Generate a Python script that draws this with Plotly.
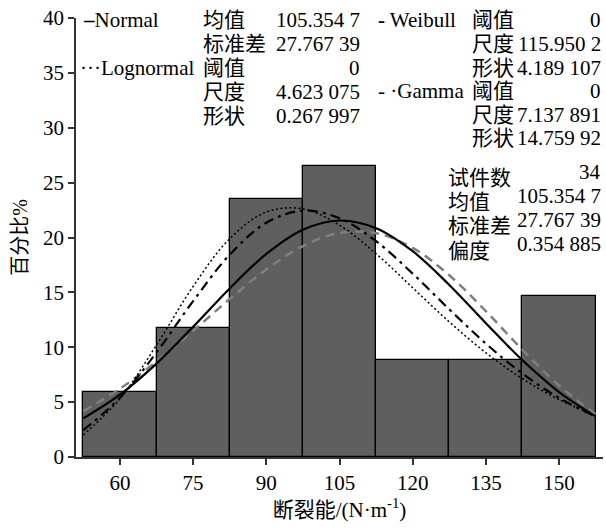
import plotly.graph_objects as go

# ---- data ----
bin_centers = [60, 75, 90, 105, 120, 135, 150]
bin_percent = [5.88, 11.76, 23.53, 26.47, 8.82, 8.82, 14.71]

curve_x = [52.5, 60, 67.5, 75, 82.5, 90, 97.5, 105, 112.5, 120, 127.5, 135, 142.5, 150, 157.5]
normal_y = [3.52, 5.68, 8.51, 11.86, 15.36, 18.50, 20.71, 21.55, 20.85, 18.75, 15.68, 12.19, 8.81, 5.92, 3.70]
lognormal_y = [2.01, 5.31, 10.20, 15.54, 19.89, 22.32, 22.61, 21.12, 18.52, 15.42, 12.31, 9.50, 7.13, 5.23, 3.77]
weibull_y = [4.18, 6.22, 8.70, 11.50, 14.39, 17.09, 19.22, 20.41, 20.39, 19.05, 16.56, 13.28, 9.76, 6.51, 3.90]
gamma_y = [2.45, 5.39, 9.53, 14.20, 18.43, 21.34, 22.44, 21.76, 19.66, 16.71, 13.46, 10.33, 7.60, 5.38, 3.68]

x_ticks = [60, 75, 90, 105, 120, 135, 150]
y_ticks = [0, 5, 10, 15, 20, 25, 30, 35, 40]

# legend / parameter texts
left_names = ["<b>–</b>Normal", "···Lognormal"]
left_labels = ["均值", "标准差", "阈值", "尺度", "形状"]
left_values = ["105.354 7", "27.767 39", "0", "4.623 075", "0.267 997"]
right_names = ["<b>-</b> Weibull", "- ·Gamma"]
right_labels = ["阈值", "尺度", "形状", "阈值", "尺度", "形状"]
right_values = ["0", "115.950 2", "4.189 107", "0", "7.137 891", "14.759 92"]
stat_labels = ["试件数", "均值", "标准差", "偏度"]
stat_values = ["34", "105.354 7", "27.767 39", "0.354 885"]

# ---- layout geometry (pixels) ----
W, H = 606, 528
L, R, T, B = 75.5, 3, 17.5, 70.5
PW, PH = W - L - R, H - T - B
FONT = "Liberation Serif, Times New Roman, Noto Sans CJK SC, serif"
FS = 21


def px(xp):
    return (xp - L) / PW


def py(yp):
    return (H - B - yp) / PH


fig = go.Figure()
fig.add_trace(go.Bar(x=bin_centers, y=bin_percent, width=15,
                     marker=dict(color="#5f5f5f", line=dict(color="#000000", width=1.3)),
                     showlegend=False))
fig.add_trace(go.Scatter(x=curve_x, y=weibull_y, mode="lines", line_shape="spline",
                         line=dict(color="#7f7f7f", width=2.5, dash="9px,6px"), showlegend=False))
fig.add_trace(go.Scatter(x=curve_x, y=lognormal_y, mode="lines", line_shape="spline",
                         line=dict(color="#000000", width=1.5, dash="2px,2.5px"), showlegend=False))
fig.add_trace(go.Scatter(x=curve_x, y=gamma_y, mode="lines", line_shape="spline",
                         line=dict(color="#000000", width=2.2, dash="10px,5px,3px,5px"), showlegend=False))
fig.add_trace(go.Scatter(x=curve_x, y=normal_y, mode="lines", line_shape="spline",
                         line=dict(color="#000000", width=2.2), showlegend=False))

ann = []


def text(s, xp, yp, anchor="left"):
    ann.append(dict(text=s, x=px(xp), y=py(yp), xref="paper", yref="paper",
                    xanchor=anchor, yanchor="middle", showarrow=False,
                    font=dict(family=FONT, size=FS, color="#000000")))


left_rows = [20, 44, 68, 92, 116]
text(left_names[0], 81, left_rows[0])
text(left_names[1], 78, left_rows[2])
for i, (lab, val) in enumerate(zip(left_labels, left_values)):
    text(lab, 201, left_rows[i])
    text(val, 362, left_rows[i], "right")

right_rows = [20, 43.6, 67.2, 90.8, 114.4, 138]
text(right_names[0], 376, right_rows[0])
text(right_names[1], 376, right_rows[3])
for i, (lab, val) in enumerate(zip(right_labels, right_values)):
    text(lab, 470, right_rows[i])
    text(val, 603, right_rows[i], "right")

stat_label_rows = [178, 202, 226, 251]
stat_value_rows = [172, 196, 220, 244]
for i, (lab, val) in enumerate(zip(stat_labels, stat_values)):
    text(lab, 446, stat_label_rows[i])
    text(val, 603, stat_value_rows[i], "right")

axis_common = dict(showline=True, linecolor="#333333", linewidth=1.5, ticks="outside",
                   ticklen=6, tickwidth=1.5, tickcolor="#333333", showgrid=False, zeroline=False,
                   tickfont=dict(family=FONT, size=FS, color="#000000"))

fig.update_layout(
    width=W, height=H,
    margin=dict(l=L, r=R, t=T, b=B, pad=0),
    paper_bgcolor="white", plot_bgcolor="white",
    bargap=0,
    annotations=ann,
    xaxis=dict(range=[51, 159], tickvals=x_ticks,
               title=dict(text="断裂能/(N·m<sup>-1</sup>)", standoff=8,
                          font=dict(family=FONT, size=FS, color="#000000")),
               **axis_common),
    yaxis=dict(range=[0, 40], tickvals=y_ticks,
               title=dict(text="百分比%", standoff=10,
                          font=dict(family=FONT, size=FS - 1, color="#000000")),
               **axis_common),
)

fig.write_html("out.html", config={"displayModeBar": False},
               post_script="document.body.style.margin='0';")
